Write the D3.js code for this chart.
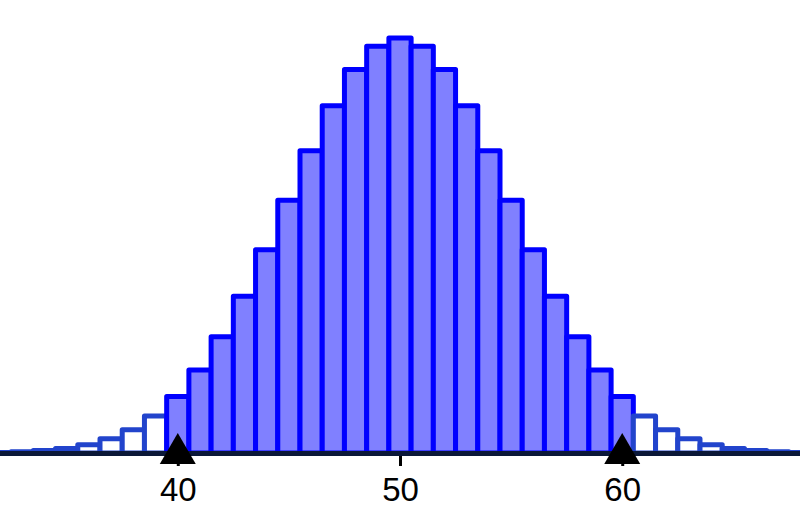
<!DOCTYPE html>
<html>
<head>
<meta charset="utf-8" />
<title>binomial histogram</title>
<script src="https://d3js.org/d3.v7.min.js"></script>
<style>
  body { margin: 0; background: #fff; }
  svg { display: block; }
</style>
</head>
<body>
<svg id="chart"></svg>
<script>
// outcomes and their probabilities
var ks = [30,31,32,33,34,35,36,37,38,39,40,41,42,43,44,45,46,47,48,49,50,
          51,52,53,54,55,56,57,58,59,60,61,62,63,64,65,66,67,68,69,70];
var probs = [0.00002,0.00005,0.00011,0.00023,0.00046,0.00086,0.00156,0.00271,0.00448,0.00711,
             0.01084,0.01591,0.02229,0.03007,0.03900,0.04847,0.05796,0.06659,0.07353,0.07803,
             0.07959,
             0.07803,0.07353,0.06659,0.05796,0.04847,0.03900,0.03007,0.02229,0.01591,0.01084,
             0.00711,0.00448,0.00271,0.00156,0.00086,0.00046,0.00023,0.00011,0.00005,0.00002];
var shadeFrom = 40, shadeTo = 60;
var tickVals = [40, 50, 60];
var markers = [40, 60];

var width = 800, height = 521;
var baseY = 453;

var svg = d3.select("#chart").attr("width", width).attr("height", height);

var x = d3.scaleLinear().domain([32, 68]).range([0, 800]);
var y = d3.scaleLinear().domain([0, 0.07959]).range([baseY, 38]);

var data = ks.map(function(k, i) { return {k: k, p: probs[i]}; });

svg.append("g").selectAll("rect")
  .data(data)
  .enter().append("rect")
  .attr("x", function(d) { return x(d.k - 0.5); })
  .attr("width", function(d) { return x(d.k + 0.5) - x(d.k - 0.5); })
  .attr("y", function(d) { return y(d.p); })
  .attr("height", function(d) { return baseY - y(d.p); })
  .attr("fill", function(d) { return (d.k >= shadeFrom && d.k <= shadeTo) ? "#8080ff" : "#ffffff"; })
  .attr("stroke", function(d) { return (d.k >= shadeFrom && d.k <= shadeTo) ? "#0000ff" : "#2244cc"; })
  .attr("stroke-width", 5)
  .attr("stroke-linejoin", "round");

// axis with ticks, own baseline drawn on top
var axis = svg.append("g")
  .attr("transform", "translate(0," + (baseY + 1) + ")")
  .call(d3.axisBottom(x).tickValues(tickVals).tickSize(12).tickPadding(12));
axis.select(".domain").remove();
axis.selectAll(".tick line").attr("stroke", "#000").attr("stroke-width", 3);
axis.selectAll(".tick text")
  .attr("fill", "#000")
  .style("font-family", "'Liberation Sans', Arial, sans-serif")
  .style("font-size", "33px");

svg.append("line")
  .attr("x1", 0).attr("x2", width)
  .attr("y1", baseY + 0.5).attr("y2", baseY + 0.5)
  .attr("stroke", "#0b1838")
  .attr("stroke-width", 5);

// triangle markers
svg.append("g").selectAll("path")
  .data(markers)
  .enter().append("path")
  .attr("d", function(m) {
    var cx = x(m);
    return "M" + (cx - 18) + "," + 464 + "L" + (cx + 18) + "," + 464 + "L" + cx + "," + 433 + "Z";
  })
  .attr("fill", "#000");
</script>
</body>
</html>
